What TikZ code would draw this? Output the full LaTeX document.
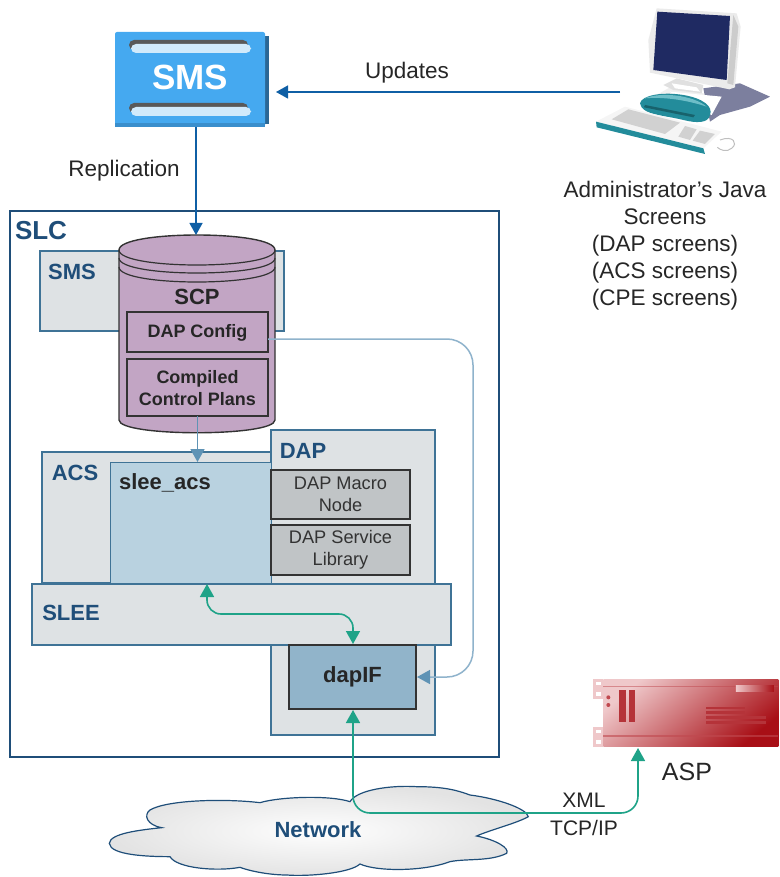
\documentclass[tikz,border=0pt]{standalone}
\usepackage{fontspec}
\setmainfont{Liberation Sans}
\usetikzlibrary{arrows.meta,calc}
\definecolor{navy}{HTML}{1F4E79}
\definecolor{edge}{HTML}{3F7396}
\definecolor{panel}{HTML}{DEE2E4}
\definecolor{plum}{HTML}{C2A5C4}
\definecolor{sleeblue}{HTML}{B9D2E0}
\definecolor{dapblue}{HTML}{91B4CA}
\definecolor{greybox}{HTML}{C0C4C6}
\definecolor{green1}{HTML}{1FA388}
\definecolor{flowblue}{HTML}{0F5FA5}
\definecolor{softblue}{HTML}{5F93B5}
\definecolor{paleline}{HTML}{8FB3CC}
\definecolor{btn}{HTML}{45A9F0}
\definecolor{screen}{HTML}{1F2A62}
\definecolor{tealdark}{HTML}{238C9B}
\definecolor{teallight}{HTML}{6EBEC8}
\definecolor{shadowpc}{HTML}{7C7F9E}
\definecolor{redlight}{HTML}{EFC8CA}
\definecolor{reddark}{HTML}{A80F16}
\definecolor{redmid}{HTML}{C0494F}
\tikzset{
  every node/.style={inner sep=0pt,outer sep=0pt},
  panelbox/.style={draw=edge,fill=panel,line width=1.4pt,anchor=north west},
  darkbox/.style={draw=black!80,line width=1.4pt,anchor=north west},
  title/.style={font=\fontsize{22}{26}\selectfont\bfseries,text=navy},
  blacktitle/.style={font=\fontsize{22}{26}\selectfont\bfseries,text=black!85},
  small/.style={font=\fontsize{18}{22}\selectfont\bfseries,text=black!85,align=center},
  plain/.style={font=\fontsize{22.5}{27}\selectfont,text=black!85,align=center},
  macro/.style={font=\fontsize{18.2}{22}\selectfont,text=black!80,align=center},
  bluearrow/.style={draw=flowblue,line width=1.3pt,-{Triangle[length=12pt,width=13pt]}},
  softarrow/.style={draw=softblue,line width=1.8pt,-{Triangle[length=13pt,width=14pt]}},
  palearrow/.style={draw=paleline,line width=1.5pt,-{Triangle[length=13pt,width=14pt,fill=softblue,color=softblue]},rounded corners=26pt},
  greenarrow/.style={draw=green1,line width=1.6pt,{Triangle[length=13pt,width=14pt]}-{Triangle[length=13pt,width=14pt]},rounded corners=14pt},
  greenlong/.style={draw=green1,line width=1.6pt,{Triangle[length=13pt,width=14pt]}-{Triangle[length=13pt,width=14pt]},rounded corners=17pt},
}
\begin{document}
\begin{tikzpicture}[x=1pt,y=-1pt]
\useasboundingbox (0,0) rectangle (779,877);

% SMS appliance
\fill[navy!45!btn!80!black] (119,36) rectangle (269,124);
\node[anchor=north west,fill=btn,minimum width=150pt,minimum height=95pt,rounded corners=2pt] (smsbtn) at (115,32) {};
\fill[btn!70!navy] (115,123) rectangle (265,127);
\foreach \yy in {40,103}{
  \fill[black!65,rounded corners=5pt] (129,\yy) rectangle (248,\yy+10);
  \fill[white!75!btn,rounded corners=5pt] (131,\yy+4) rectangle (251,\yy+13);
}
\node[font=\fontsize{35}{40}\selectfont\bfseries,text=white] (smstext) at (190,77) {SMS};

% Computer
\begin{scope}[shift={(570,0)},x=0.3333pt,y=-0.3333pt]
  \fill[black!6] (215,310) -- (300,262) -- (455,290) -- (430,360) -- cycle;
  \fill[shadowpc] (400,265) -- (510,250) -- (600,290) -- (540,320) -- (450,345) -- (420,365) -- cycle;
  \fill[black!12] (280,255) -- (320,235) -- (400,255) -- (395,280) -- (310,270) -- cycle;
  \fill[white] (305,250) -- (380,262) -- (390,275) -- (315,265) -- cycle;
  \fill[black!8] (260,25) -- (500,40) -- (512,80) -- (495,262) -- (478,268) -- (240,218) -- (235,120) -- cycle;
  \fill[black!20] (490,45) -- (505,80) -- (490,255) -- (472,250) -- cycle;
  \fill[screen] (262,35) -- (480,48) -- (470,240) -- (250,210) -- cycle;
  \fill[white] (300,275) -- (455,290) -- (425,345) -- (360,320) -- cycle;
  \fill[tealdark] (210,310) .. controls (215,285) and (280,275) .. (340,285) .. controls (400,295) and (430,320) .. (420,345) .. controls (415,370) and (380,370) .. (340,360) .. controls (280,345) and (215,345) .. (210,310) -- cycle;
  \fill[teallight] (225,295) .. controls (270,275) and (370,285) .. (410,320) .. controls (350,300) and (280,290) .. (225,295) -- cycle;
  \fill[tealdark!70!black] (225,315) -- (375,345) -- (370,352) -- (222,322) -- cycle;
  \fill[black!4] (78,365) -- (165,320) -- (455,395) -- (400,445) -- cycle;
  \fill[tealdark] (78,365) -- (400,445) -- (405,462) -- (80,382) -- cycle;
  \fill[black!18] (125,358) -- (175,328) -- (330,368) -- (285,402) -- cycle;
  \fill[black!18] (345,378) -- (380,388) -- (360,420) -- (325,410) -- cycle;
  \fill[black!18] (390,392) -- (435,402) -- (405,432) -- (368,422) -- cycle;
  \draw[black!25,line width=1pt] (450,420) .. controls (490,405) and (505,430) .. (485,445) .. controls (470,458) and (450,450) .. (442,442);
\end{scope}
\coordinate (pcport) at (620,92);
\coordinate (updtip) at (276,92);
\draw[bluearrow] (pcport) -- (updtip);
\node[plain] (updates) at (407,73) {Updates};
\node[plain] (replication) at (124,171) {Replication};
\node[plain,anchor=north] (admin) at (665,181) {Administrator’s Java\\Screens\\(DAP screens)\\(ACS screens)\\(CPE screens)};

% SLC and panels
\node[anchor=north west,draw=navy,fill=white,line width=2.5pt,minimum width=489pt,minimum height=546pt] (slc) at (10,211) {};
\node[title,font=\fontsize{26}{30}\selectfont\bfseries] (slclabel) at (41,231) {SLC};
\node[panelbox,minimum width=244pt,minimum height=80pt] (smspanel) at (40,251) {};
\node[title] (smslabel) at (72,272) {SMS};
\node[panelbox,minimum width=229pt,minimum height=131pt] (acs) at (42,452) {};
\node[panelbox,minimum width=164pt,minimum height=305pt] (dap) at (271,430) {};
\node[title] (acslabel) at (75,473) {ACS};
\node[title] (daplabel) at (303,451) {DAP};
\node[anchor=north west,fill=sleeblue,draw=edge,line width=1pt,minimum width=161pt,minimum height=121pt] (sleeacs) at (110,462) {};
\node[blacktitle] (sleeacslabel) at (165,483) {slee\_acs};
\node[darkbox,fill=greybox,minimum width=139pt,minimum height=49pt] (macronode) at (271,470) {};
\node[macro] at (macronode.center) {DAP Macro\\Node};
\node[darkbox,fill=greybox,minimum width=139pt,minimum height=50pt] (servicelib) at (271,525) {};
\node[macro] at (servicelib.center) {DAP Service\\Library};
\node[panelbox,minimum width=419pt,minimum height=61pt] (slee) at (32,584) {};
\node[title] (sleelabel) at (71,613) {SLEE};
\node[darkbox,fill=dapblue,minimum width=127pt,minimum height=64pt] (dapif) at (289,645) {};
\node[blacktitle] (dapiflabel) at (dapif.center) {dapIF};

% SCP cylinder
\draw[black!80,fill=plum,line width=1.4pt] (119,250) -- (119,420) .. controls (119,437) and (275,437) .. (275,420) -- (275,250) .. controls (275,230) and (119,230) .. (119,250) -- cycle;
\draw[black!80,line width=1.2pt] (119,250) .. controls (119,270) and (275,270) .. (275,250);
\draw[black!80,line width=1.2pt] (119,258) .. controls (119,278) and (275,278) .. (275,258);
\draw[black!80,line width=1.2pt] (119,267) .. controls (119,287) and (275,287) .. (275,267);
\node[blacktitle] (scplabel) at (197,297) {SCP};
\node[darkbox,minimum width=141pt,minimum height=40pt] (dapconfig) at (127,312) {};
\node[small,yshift=-1pt] at (dapconfig.center) {DAP Config};
\node[darkbox,minimum width=141pt,minimum height=57pt] (compiled) at (127,359) {};
\node[small,yshift=-1pt] at (compiled.center) {Compiled\\Control Plans};

% Network cloud
\begin{scope}[shift={(90,740)},x=0.3333pt,y=-0.3333pt]
\shade[inner color=white!97!panel,outer color=black!11,draw=navy,line width=1.2pt]
 (780,185) .. controls (800,150) and (900,135) .. (980,140)
 .. controls (1060,140) and (1100,150) .. (1140,165)
 .. controls (1220,175) and (1310,205) .. (1315,230)
 .. controls (1280,250) and (1200,270) .. (1160,288)
 .. controls (1220,300) and (1260,325) .. (1250,340)
 .. controls (1200,365) and (1130,355) .. (1080,365)
 .. controls (1000,395) and (860,395) .. (810,372)
 .. controls (780,400) and (650,410) .. (590,405)
 .. controls (530,405) and (470,390) .. (450,382)
 .. controls (380,395) and (260,385) .. (240,350)
 .. controls (170,350) and (60,345) .. (58,310)
 .. controls (60,280) and (150,270) .. (215,263)
 .. controls (170,255) and (160,225) .. (180,210)
 .. controls (230,180) and (400,175) .. (510,188)
 .. controls (570,170) and (720,165) .. (780,185) -- cycle;
\end{scope}
\node[title] (network) at (318,830) {Network};

% ASP server
\begin{scope}[shift={(570,660)},x=0.3333pt,y=-0.3333pt]
  \fill[redlight] (68,58) rectangle (100,118);
  \fill[redlight] (68,200) rectangle (100,260);
  \fill[white] (78,66) rectangle (92,76);
  \fill[white] (78,96) rectangle (92,108);
  \fill[white] (78,210) rectangle (92,220);
  \fill[white] (78,240) rectangle (92,252);
  \shade[left color=redlight,right color=reddark,shading angle=40] (100,58) rectangle (625,260);
  \fill[redmid,opacity=.6] (100,226) rectangle (625,232);
  \fill[redmid,opacity=.5] (100,78) rectangle (625,82);
  \shade[left color=redlight,right color=reddark] (498,76) rectangle (612,94);
  \fill[redmid] (115,112) circle (6);
  \fill[redmid] (115,135) circle (6);
  \fill[reddark!85] (146,90) rectangle (167,185);
  \fill[reddark!85] (177,90) rectangle (196,185);
  \foreach \yy/\xe in {144/526,158/526,173/588,187/588} {\fill[reddark!85] (408,\yy-4) rectangle (\xe,\yy+4);}
\end{scope}
\node[plain,font=\fontsize{25}{30}\selectfont] (asp) at (687,772) {ASP};
\node[plain,font=\fontsize{21}{25}\selectfont] (xml) at (584,800) {XML};
\node[plain,font=\fontsize{21}{25}\selectfont] (tcp) at (584,828) {TCP/IP};

% Connectors
\coordinate (reptop) at (196,127);
\coordinate (reptip) at (196,235);
\draw[bluearrow] (reptop) -- (reptip);
\coordinate (acstip) at (compiled.south |- sleeacs.north);
\draw[softarrow] (compiled.south) -- (acstip);
\coordinate (palecorner1) at (473,339);
\coordinate (palecorner2) at (473,677);
\coordinate (palestart) at (dapconfig.east |- palecorner1);
\coordinate (paletip) at ($(dapif.east)+(1,0)$);
\draw[palearrow] (palestart) -- (palecorner1) -- (palecorner2) -- (paletip);
\coordinate (gs) at (207,584);
\coordinate (g1) at (207,614);
\coordinate (g2) at (353,614);
\coordinate (ge) at (353,644);
\draw[greenarrow] (gs) -- (g1) -- (g2) -- (ge);
\coordinate (n0) at (353,710);
\coordinate (n1) at (353,813);
\coordinate (n2) at (638,813);
\coordinate (n3) at (638,748);
\draw[greenlong] (n0) -- (n1) -- (n2) -- (n3);
\end{tikzpicture}
\end{document}
